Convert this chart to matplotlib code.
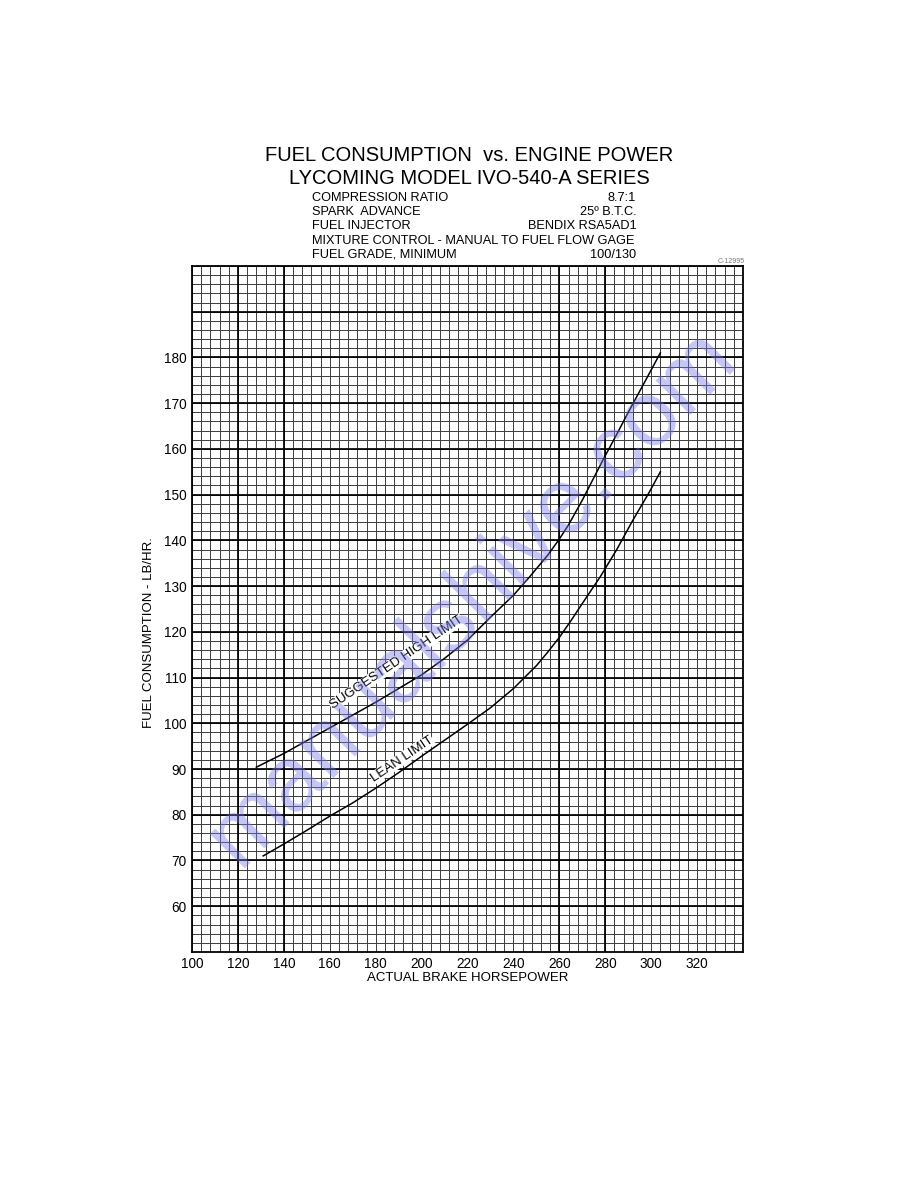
import matplotlib
matplotlib.use("Agg")
import matplotlib.pyplot as plt
import numpy as np

plt.rcParams["font.family"] = ["Liberation Sans", "DejaVu Sans"]

# values
high_hp = [128, 140, 150, 160, 170, 180, 190, 200, 210, 220, 230, 240, 247, 255, 260, 264, 270, 279, 285, 290, 298, 304]
high_ff = [90.4, 93.4, 96.2, 99.0, 101.8, 104.6, 107.6, 110.6, 114.2, 118.2, 123.2, 128.0, 132.0, 136.8, 140.3, 143.4, 148.8, 157.6, 163.2, 168.0, 175.4, 181.0]

lean_hp = [131, 140, 150, 160, 170, 180, 190, 200, 210, 220, 230, 240, 250, 255, 260, 265, 270, 278, 285, 292, 299, 304]
lean_ff = [71.0, 73.6, 76.6, 79.7, 82.6, 85.8, 89.2, 92.8, 96.3, 99.8, 103.4, 107.6, 112.6, 115.6, 118.8, 122.4, 126.2, 132.2, 138.0, 144.4, 150.4, 155.0]

x_ticks = list(range(100, 321, 20))
y_ticks = list(range(60, 181, 10))

spec_names = ["COMPRESSION RATIO", "SPARK  ADVANCE", "FUEL INJECTOR",
              "MIXTURE CONTROL - MANUAL TO FUEL FLOW GAGE", "FUEL GRADE, MINIMUM"]
spec_values = ["8.7:1", "25\u00ba B.T.C.", "BENDIX RSA5AD1", "", "100/130"]

fig = plt.figure(figsize=(9.18, 11.88), dpi=100)
ax = fig.add_axes([0.2092, 0.1987, 0.6002, 0.5774])
ax.set_xlim(100, 340)
ax.set_ylim(50, 200)

# graph paper
ax.vlines(np.arange(100, 341, 4), 50, 200, colors="#3c3c3c", lw=0.7, zorder=1)
ax.hlines(np.arange(50, 201, 2), 100, 340, colors="#3c3c3c", lw=0.7, zorder=1)
ax.vlines([120, 140, 260, 280], 50, 200, colors="black", lw=1.25, zorder=2)
ax.hlines(np.arange(60, 191, 10), 100, 340, colors="black", lw=1.25, zorder=2)
for s in ax.spines.values():
    s.set_linewidth(1.3)

ax.plot(high_hp, high_ff, color="black", lw=1.1, zorder=3)
ax.plot(lean_hp, lean_ff, color="black", lw=1.1, zorder=3)

lbl_box = dict(facecolor="white", edgecolor="none", pad=0.3)
ax.text(189, 113.3, "SUGGESTED HIGH LIMIT", rotation=34, ha="center", va="center",
        fontsize=9.5, zorder=4, rotation_mode="anchor", bbox=lbl_box)
ax.text(191.5, 92.2, "LEAN LIMIT", rotation=34, ha="center", va="center",
        fontsize=9.5, zorder=4, rotation_mode="anchor", bbox=lbl_box)

ax.set_xticks(x_ticks)
ax.set_yticks(y_ticks)
ax.tick_params(length=0, labelsize=9.8, pad=4)
ax.set_xlabel("ACTUAL BRAKE HORSEPOWER", fontsize=9.5)
ax.xaxis.set_label_coords(0.5, -0.029)
ax.set_ylabel("FUEL CONSUMPTION - LB/HR.", fontsize=9.5)
ax.yaxis.set_label_coords(-0.067, 0.465)

fig.text(0.511, 0.8695, "FUEL CONSUMPTION  vs. ENGINE POWER", ha="center", va="center", fontsize=14.5)
fig.text(0.511, 0.850, "LYCOMING MODEL IVO-540-A SERIES", ha="center", va="center", fontsize=14.5)
for i, (name, val) in enumerate(zip(spec_names, spec_values)):
    y = 0.8333 - i * 0.01195
    fig.text(0.340, y, name, ha="left", va="center", fontsize=9.2)
    if val:
        fig.text(0.693, y, val, ha="right", va="center", fontsize=9.2)
fig.text(0.8115, 0.7795, "C-12995", ha="right", va="center", fontsize=5, color="#777777")

# watermark seen on the scan
fig.text(0.514, 0.497, "manualshive.com", ha="center", va="center", rotation=45.5,
         fontsize=66, color="#7777e8", alpha=0.42, zorder=10)

fig.savefig("out.png", dpi=100)
